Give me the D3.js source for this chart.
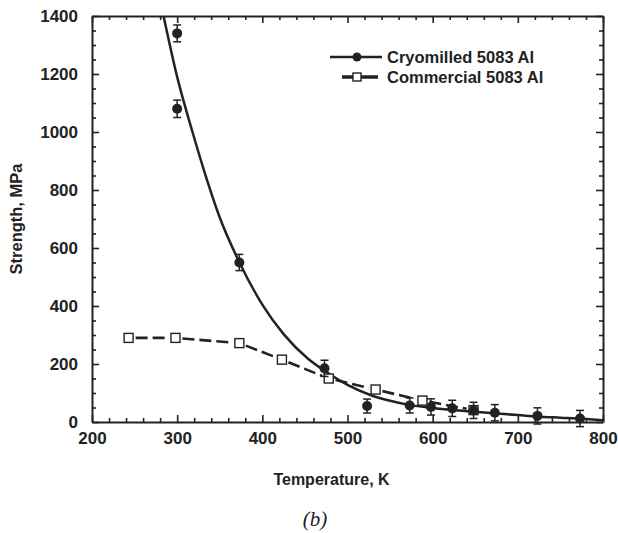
<!DOCTYPE html>
<html>
<head>
<meta charset="utf-8">
<script src="https://cdn.jsdelivr.net/npm/d3@7"></script>
<style>
  body { margin: 0; background: #fff; }
  text { font-family: "Liberation Sans", Arial, sans-serif; font-weight: bold; fill: #222; }
</style>
</head>
<body>
<div id="chart"></div>
<script>
// cryomilled 5083 Al - measured points
const cryoTemp = [300, 300, 373, 473, 523, 573, 598, 623, 648, 673, 723, 773];
const cryoStrength = [1340, 1080, 550, 185, 55, 57, 52, 47, 40, 32, 21, 12];
const cryoErr = [29, 30, 28, 28, 24, 26, 28, 28, 28, 28, 28, 28];

// fitted curve through the cryomilled data
const fitTemp = [284, 300, 318, 335, 350, 374, 400, 425, 454, 474, 500, 526, 550, 572, 600, 624, 650, 675, 700, 722, 750, 773, 800];
const fitStrength = [1400, 1190, 1000, 835, 705, 545, 405, 303, 217, 175, 128, 94, 73, 59, 48, 41, 35, 29, 24, 19, 15, 12, 6];

// commercial 5083 Al
const commTemp = [243, 298, 373, 423, 478, 533, 588, 648];
const commStrength = [290, 290, 272, 215, 150, 112, 74, 41];

const xTicks = [200, 300, 400, 500, 600, 700, 800];
const yTicks = [0, 200, 400, 600, 800, 1000, 1200, 1400];
const legendLabels = ["Cryomilled 5083 Al", "Commercial 5083 Al"];

function drawChart(element) {
  var margin = { top: 16, right: 15, bottom: 111, left: 92 },
    width = 618 - margin.left - margin.right,
    height = 533 - margin.top - margin.bottom;
  const ink = "#222";

  var root = d3.select(element).append("svg")
    .attr("width", 618)
    .attr("height", 533);
  var svg = root.append("g")
    .attr("transform", "translate(" + margin.left + "," + margin.top + ")");

  var x = d3.scaleLinear().domain([200, 800]).range([0, width]);
  var y = d3.scaleLinear().domain([0, 1400]).range([height, 0]);

  svg.append("clipPath").attr("id", "plot-clip")
    .append("rect").attr("width", width).attr("height", height);

  // minor ticks (every 20 K / 50 MPa), all four sides, pointing inward
  const xMinor = d3.range(200, 801, 20).filter(v => v % 100 !== 0);
  const yMinor = d3.range(0, 1401, 50).filter(v => v % 200 !== 0);
  const minorAxes = [
    [d3.axisBottom(x).tickValues(xMinor), "translate(0," + height + ")"],
    [d3.axisTop(x).tickValues(xMinor), "translate(0,0)"],
    [d3.axisLeft(y).tickValues(yMinor), "translate(0,0)"],
    [d3.axisRight(y).tickValues(yMinor), "translate(" + width + ",0)"],
  ];
  minorAxes.forEach(([ax, tr]) => {
    svg.append("g").attr("transform", tr)
      .call(ax.tickSize(-4).tickSizeOuter(0).tickFormat(""))
      .call(g => g.select(".domain").remove())
      .selectAll("line").attr("stroke", ink).attr("stroke-width", 1.5);
  });

  // major ticks + frame
  svg.append("g")
    .attr("transform", "translate(0," + height + ")")
    .call(d3.axisBottom(x).tickValues(xTicks).tickSize(-7).tickSizeOuter(0).tickPadding(10).tickFormat(d3.format("d")));
  svg.append("g")
    .call(d3.axisLeft(y).tickValues(yTicks).tickSize(-7).tickSizeOuter(0).tickPadding(14).tickFormat(d3.format("d")));
  svg.append("g")
    .call(d3.axisTop(x).tickValues(xTicks).tickSize(-7).tickSizeOuter(0).tickFormat(""));
  svg.append("g")
    .attr("transform", "translate(" + width + ",0)")
    .call(d3.axisRight(y).tickValues(yTicks).tickSize(-7).tickSizeOuter(0).tickFormat(""));

  svg.selectAll(".domain").attr("stroke", ink).attr("stroke-width", 2);
  svg.selectAll(".tick line").attr("stroke", ink).attr("stroke-width", 1.6);
  svg.selectAll(".tick text").style("font-size", "17px").attr("fill", ink);

  // axis titles
  svg.append("text")
    .attr("x", width / 2 - 16)
    .attr("y", height + 63)
    .attr("text-anchor", "middle")
    .style("font-size", "16px")
    .text("Temperature, K");
  svg.append("text")
    .attr("transform", "translate(" + (-70) + "," + (height / 2) + ") rotate(-90)")
    .attr("text-anchor", "middle")
    .style("font-size", "16.5px")
    .text("Strength, MPa");
  root.append("text")
    .attr("x", 315)
    .attr("y", 526)
    .attr("text-anchor", "middle")
    .style("font-family", "'Liberation Serif', 'DejaVu Serif', serif")
    .style("font-weight", "normal")
    .style("font-style", "italic")
    .style("font-size", "21px")
    .text("(b)");

  const plot = svg.append("g").attr("clip-path", "url(#plot-clip)");

  // commercial: dashed segments, stopping short of the squares
  const comm = commTemp.map((t, i) => [x(t), y(commStrength[i])]);
  const segs = d3.pairs(comm).map(([a, b]) => {
    const dx = b[0] - a[0], dy = b[1] - a[1], len = Math.hypot(dx, dy);
    const ux = dx / len, uy = dy / len, gap = 7;
    return [a[0] + ux * gap, a[1] + uy * gap, b[0] - ux * gap, b[1] - uy * gap];
  });
  plot.selectAll("line.comm")
    .data(segs)
    .enter()
    .append("line")
    .attr("class", "comm")
    .attr("x1", d => d[0]).attr("y1", d => d[1])
    .attr("x2", d => d[2]).attr("y2", d => d[3])
    .attr("stroke", ink)
    .attr("stroke-width", 2.6)
    .attr("stroke-dasharray", "12,5");

  // fitted curve
  const fit = fitTemp.map((t, i) => [t, fitStrength[i]]);
  plot.append("path")
    .datum(fit)
    .attr("fill", "none")
    .attr("stroke", ink)
    .attr("stroke-width", 2.5)
    .attr("d", d3.line().x(d => x(d[0])).y(d => y(d[1])).curve(d3.curveMonotoneX));

  // commercial squares
  plot.selectAll("rect.comm")
    .data(comm)
    .enter()
    .append("rect")
    .attr("x", d => d[0] - 4.5)
    .attr("y", d => d[1] - 4.5)
    .attr("width", 9)
    .attr("height", 9)
    .attr("fill", "#fff")
    .attr("stroke", ink)
    .attr("stroke-width", 1.4);

  // cryomilled points with error bars
  const cryo = svg.append("g").selectAll("g")
    .data(cryoTemp.map((t, i) => ({ t: t, s: cryoStrength[i], e: cryoErr[i] })))
    .enter()
    .append("g")
    .attr("transform", d => `translate(${x(d.t)}, 0)`);
  cryo.append("line")
    .attr("y1", d => y(d.s + d.e)).attr("y2", d => y(d.s - d.e))
    .attr("stroke", ink).attr("stroke-width", 1.5);
  [1, -1].forEach(sgn => {
    cryo.append("line")
      .attr("x1", -4).attr("x2", 4)
      .attr("y1", d => y(d.s + sgn * d.e)).attr("y2", d => y(d.s + sgn * d.e))
      .attr("stroke", ink).attr("stroke-width", 1.5);
  });
  cryo.append("circle")
    .attr("cy", d => y(d.s))
    .attr("r", 5)
    .attr("fill", ink);

  // legend
  const legend = svg.append("g").attr("transform", "translate(238, 41)");
  legend.append("line")
    .attr("x1", 0).attr("x2", 52).attr("y1", 0).attr("y2", 0)
    .attr("stroke", ink).attr("stroke-width", 2.5);
  legend.append("circle").attr("cx", 27).attr("cy", 0).attr("r", 4.5).attr("fill", ink);
  legend.append("line")
    .attr("x1", 12).attr("x2", 48).attr("y1", 20).attr("y2", 20)
    .attr("stroke", ink).attr("stroke-width", 3.5);
  legend.append("rect")
    .attr("x", 23).attr("y", 16).attr("width", 8).attr("height", 8)
    .attr("fill", "#fff").attr("stroke", ink).attr("stroke-width", 1.4);
  legend.selectAll("text.leg")
    .data(legendLabels)
    .enter()
    .append("text")
    .attr("class", "leg")
    .attr("x", 57)
    .attr("y", (d, i) => 6 + i * 20)
    .style("font-size", "16.5px")
    .text(d => d);
}

drawChart("#chart");
</script>
</body>
</html>
